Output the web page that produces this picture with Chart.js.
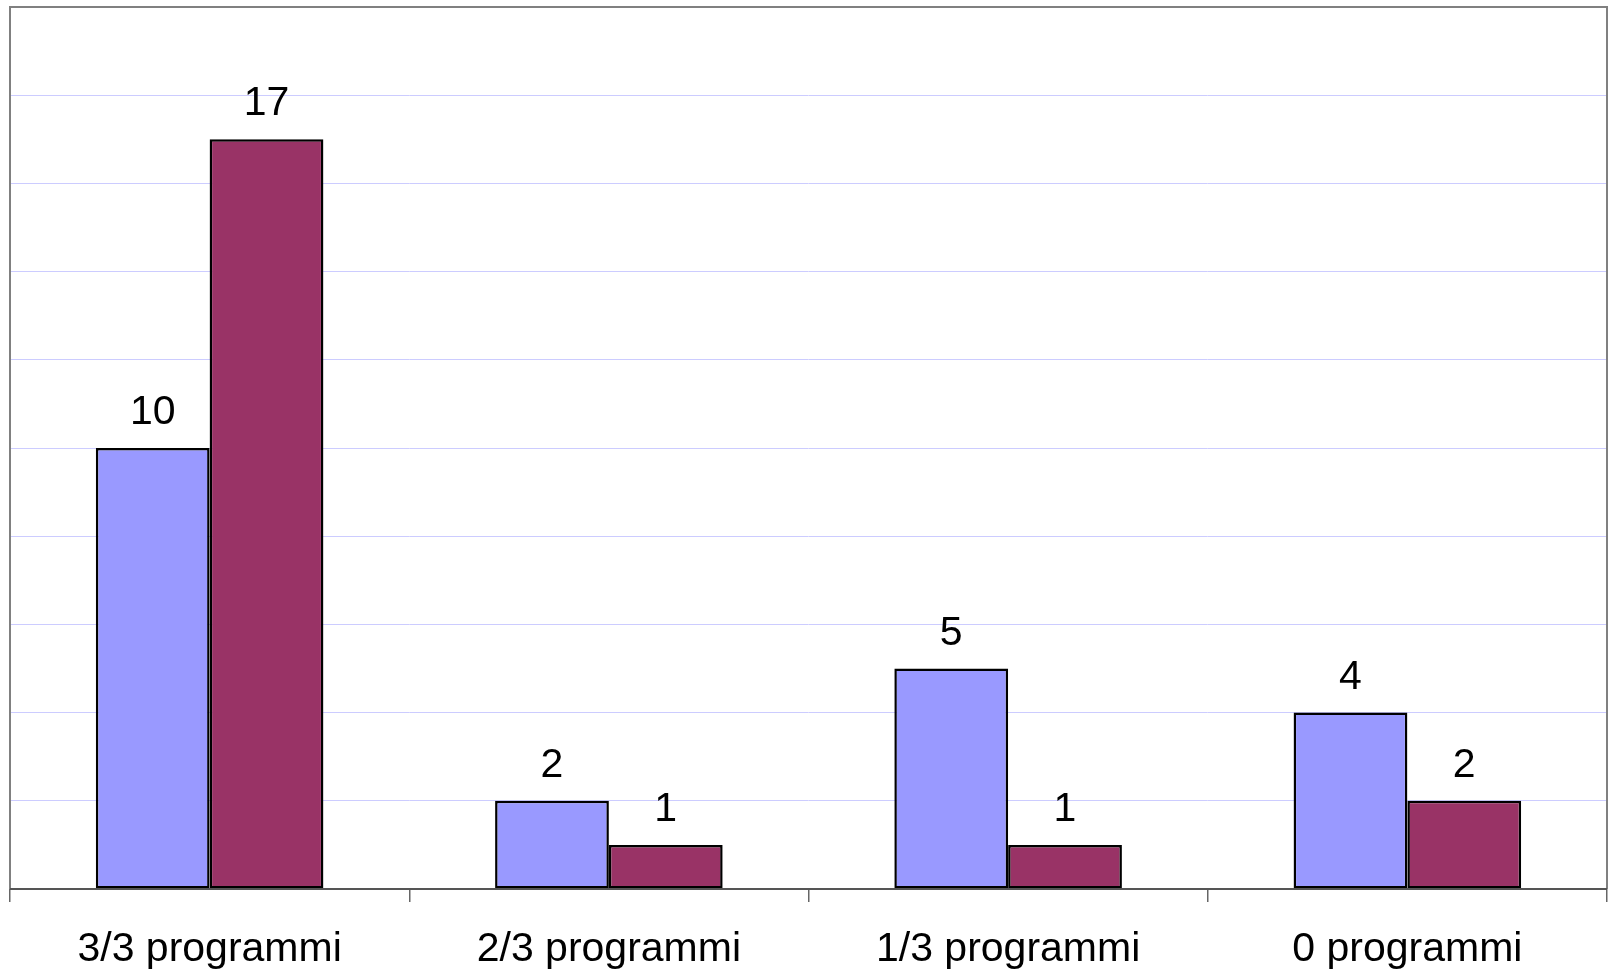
<!DOCTYPE html>
<html>
<head>
<meta charset="utf-8">
<script src="https://cdn.jsdelivr.net/npm/chart.js@4"></script>
<style>
  html, body { margin: 0; padding: 0; background: #fff; }
  #wrap { width: 1610px; height: 969px; }
</style>
</head>
<body>
<div id="wrap"><canvas id="myChart"></canvas></div>
<script>
var categories = ["3/3 programmi", "2/3 programmi", "1/3 programmi", "0 programmi"];
var serie1 = [10, 2, 5, 4];
var serie2 = [17, 1, 1, 2];
var yMax = 20;
var yStep = 2;

// valori sopra le barre
var valueLabels = {
  id: "valueLabels",
  afterDatasetsDraw: function(chart) {
    var ctx = chart.ctx;
    ctx.save();
    ctx.font = "41px 'Liberation Sans', Arial, sans-serif";
    ctx.fillStyle = "#000";
    ctx.textAlign = "center";
    ctx.textBaseline = "alphabetic";
    chart.data.datasets.forEach(function(ds, i) {
      chart.getDatasetMeta(i).data.forEach(function(bar, j) {
        ctx.fillText(ds.data[j], bar.x, bar.y - 24);
      });
    });
    ctx.restore();
  }
};

// cornice dell'area del grafico
var frame = {
  id: "frame",
  afterDraw: function(chart) {
    var a = chart.chartArea;
    var ctx = chart.ctx;
    ctx.save();
    ctx.strokeStyle = "#808080";
    ctx.lineWidth = 2;
    ctx.beginPath();
    ctx.moveTo(a.left, a.bottom);
    ctx.lineTo(a.left, a.top);
    ctx.lineTo(a.right, a.top);
    ctx.lineTo(a.right, a.bottom);
    ctx.stroke();
    ctx.strokeStyle = "#555";
    ctx.beginPath();
    ctx.moveTo(a.left, a.bottom);
    ctx.lineTo(a.right, a.bottom);
    ctx.stroke();
    ctx.restore();
  }
};

var chart = document.getElementById("myChart").getContext("2d");
new Chart(chart, {
  type: "bar",
  data: {
    labels: categories,
    datasets: [
      {
        label: "Serie 1",
        data: serie1,
        backgroundColor: "#9999FF",
        borderColor: "#000",
        borderWidth: 2.5,
        borderSkipped: false
      },
      {
        label: "Serie 2",
        data: serie2,
        backgroundColor: "#993366",
        borderColor: "#000",
        borderWidth: 2.5,
        borderSkipped: false
      }
    ]
  },
  options: {
    responsive: true,
    maintainAspectRatio: false,
    animation: false,
    layout: { padding: { left: 10, top: 7, right: 3, bottom: -28 } },
    plugins: {
      legend: { display: false },
      tooltip: { enabled: false }
    },
    datasets: {
      bar: { categoryPercentage: 0.57, barPercentage: 1.0 }
    },
    scales: {
      x: {
        grid: {
          offset: true,
          drawOnChartArea: false,
          drawTicks: true,
          tickLength: 13,
          color: "#666",
          lineWidth: 1.5
        },
        border: { display: false },
        ticks: {
          color: "#000",
          padding: 27,
          font: { family: "'Liberation Sans', Arial, sans-serif", size: 41, lineHeight: 1 }
        }
      },
      y: {
        min: 0,
        max: yMax,
        ticks: { display: false, stepSize: yStep },
        grid: { color: "#CCCCFF", lineWidth: 1, drawTicks: false },
        border: { display: false }
      }
    }
  },
  plugins: [valueLabels, frame]
});
</script>
</body>
</html>
